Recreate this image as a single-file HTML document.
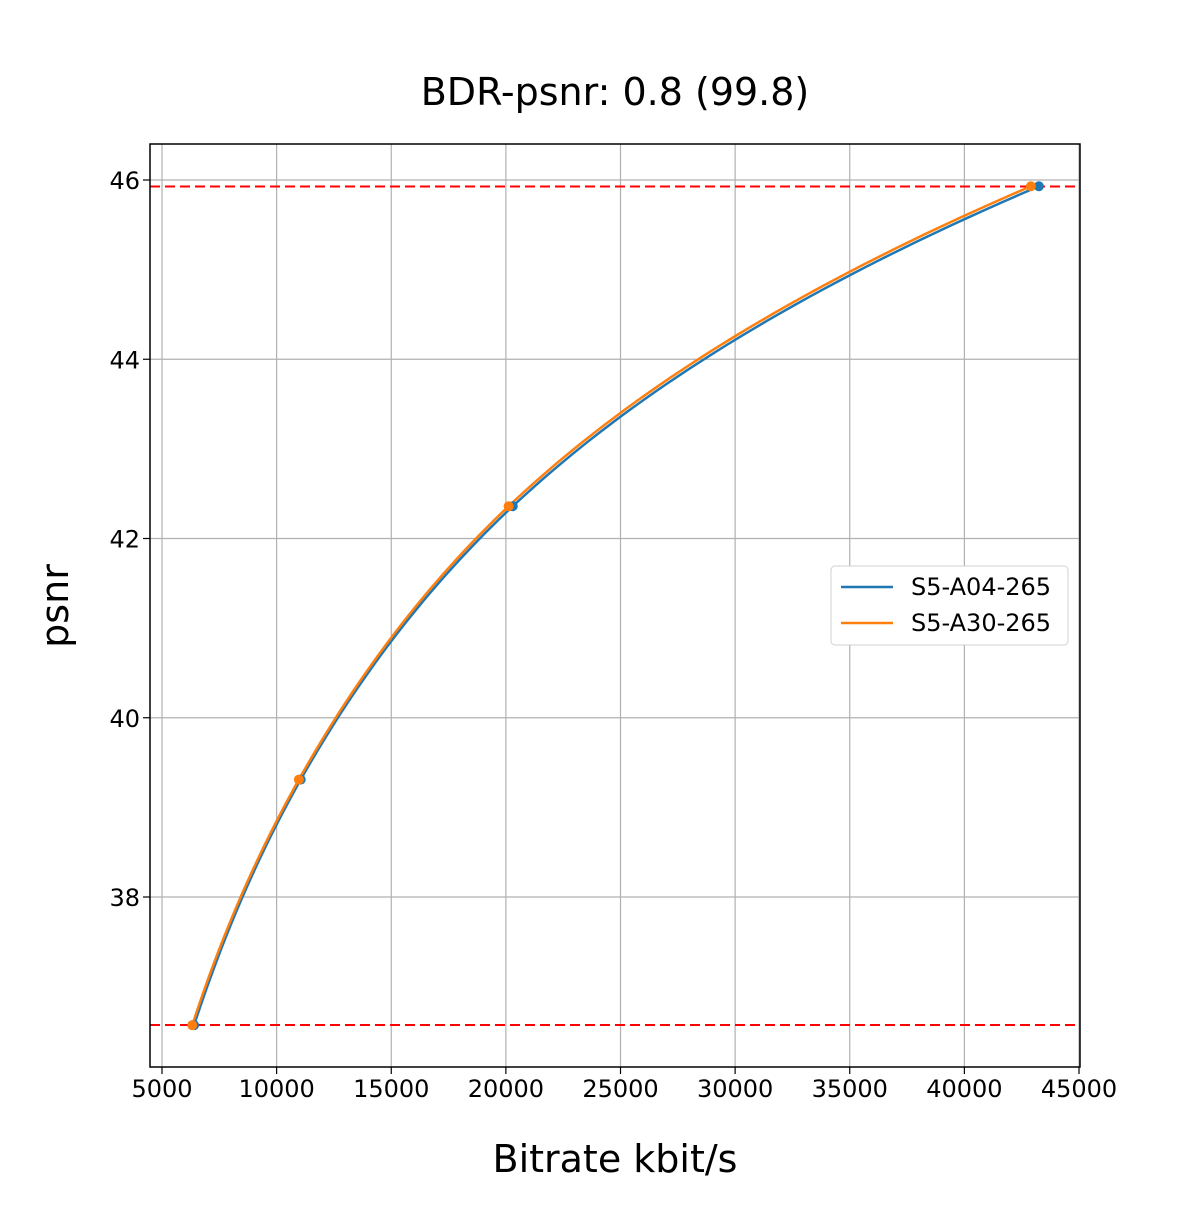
<!DOCTYPE html>
<html><head><meta charset="utf-8"><style>
body{margin:0;background:#fff;}
text{font-family:"DejaVu Sans","Liberation Sans",sans-serif;}
</style></head><body>
<svg id="s" width="1200" height="1200" viewBox="0 0 1200 1200" xmlns="http://www.w3.org/2000/svg">
<rect width="1200" height="1200" fill="#fff"/>
<text x="615" y="105" font-size="38" text-anchor="middle">BDR-psnr: 0.8 (99.8)</text>
<g id="grid" stroke="#b0b0b0" stroke-width="1.2"></g>
<g id="ticks" font-size="24" fill="#000"></g>
<line x1="150" y1="186.5" x2="1080" y2="186.5" stroke="#ff0000" stroke-width="2" stroke-dasharray="10,5"/>
<line x1="150" y1="1025" x2="1080" y2="1025" stroke="#ff0000" stroke-width="2" stroke-dasharray="10,5"/>
<path id="pb" fill="none" stroke="#1f77b4" stroke-width="2.5"/>
<path id="po" fill="none" stroke="#ff7f0e" stroke-width="2.5"/>
<g id="dots"></g>
<rect x="150" y="144" width="930" height="923" fill="none" stroke="#000" stroke-width="1.5"/>
<text x="615" y="1172" font-size="38" text-anchor="middle">Bitrate kbit/s</text>
<text transform="translate(68,606) rotate(-90)" font-size="38" text-anchor="middle">psnr</text>
<rect x="831" y="566" width="237" height="79" rx="4" fill="#fff" stroke="#d0d0d0"/>
<line x1="841" y1="587" x2="893" y2="587" stroke="#1f77b4" stroke-width="2.5"/>
<line x1="841" y1="623" x2="893" y2="623" stroke="#ff7f0e" stroke-width="2.5"/>
<text x="911" y="595" font-size="24">S5-A04-265</text>
<text x="911" y="631" font-size="24">S5-A30-265</text>
</svg>
<script>
var NS="http://www.w3.org/2000/svg";
function X(r){return 162+(r-5000)*917/40000;}
function Y(p){return 180+(46-p)*717/8;}
var g=document.getElementById('grid'),t=document.getElementById('ticks');
function el(p,tag,a,txt){var e=document.createElementNS(NS,tag);for(var k in a)e.setAttribute(k,a[k]);if(txt)e.textContent=txt;p.appendChild(e);return e;}
for(var r=5000;r<=45000;r+=5000){var x=X(r);el(g,'line',{x1:x,y1:144,x2:x,y2:1067});el(t,'line',{x1:x,y1:1067,x2:x,y2:1074,stroke:'#000','stroke-width':1.2});el(t,'text',{x:x,y:1097,'text-anchor':'middle'},''+r);}
for(var p=38;p<=46;p+=2){var y=Y(p);el(g,'line',{x1:150,y1:y,x2:1080,y2:y});el(t,'line',{x1:143,y1:y,x2:150,y2:y,stroke:'#000','stroke-width':1.2});el(t,'text',{x:140,y:y+9,'text-anchor':'end'},''+p);}
function curve(pts){
 var xs=pts.map(function(a){return Math.log(a[0]);}),ys=pts.map(function(a){return a[1];});
 var n=xs.length,m=[];
 for(var i=0;i<n;i++){if(i==0)m[i]=(ys[1]-ys[0])/(xs[1]-xs[0]);else if(i==n-1)m[i]=(ys[n-1]-ys[n-2])/(xs[n-1]-xs[n-2]);else m[i]=0.5*((ys[i+1]-ys[i])/(xs[i+1]-xs[i])+(ys[i]-ys[i-1])/(xs[i]-xs[i-1]));}
 var d='';
 for(var i=0;i<n-1;i++){var h=xs[i+1]-xs[i];for(var k=0;k<=40;k++){var s=k/40,h00=2*s*s*s-3*s*s+1,h10=s*s*s-2*s*s+s,h01=-2*s*s*s+3*s*s,h11=s*s*s-s*s;var lx=xs[i]+s*h,ly=h00*ys[i]+h10*h*m[i]+h01*ys[i+1]+h11*h*m[i+1];d+=(d?'L':'M')+X(Math.exp(lx)).toFixed(2)+','+Y(ly).toFixed(2);}}
 return d;}
var B=[[6400,36.57],[11050,39.31],[20300,42.36],[43250,45.93]];
var O=[[6320,36.57],[10970,39.31],[20120,42.36],[42900,45.93]];
document.getElementById('pb').setAttribute('d',curve(B));
document.getElementById('po').setAttribute('d',curve(O));
var dg=document.getElementById('dots');
B.forEach(function(a){el(dg,'circle',{cx:X(a[0]),cy:Y(a[1]),r:5,fill:'#1f77b4'});});
O.forEach(function(a){el(dg,'circle',{cx:X(a[0]),cy:Y(a[1]),r:5,fill:'#ff7f0e'});});
</script>
</body></html>
